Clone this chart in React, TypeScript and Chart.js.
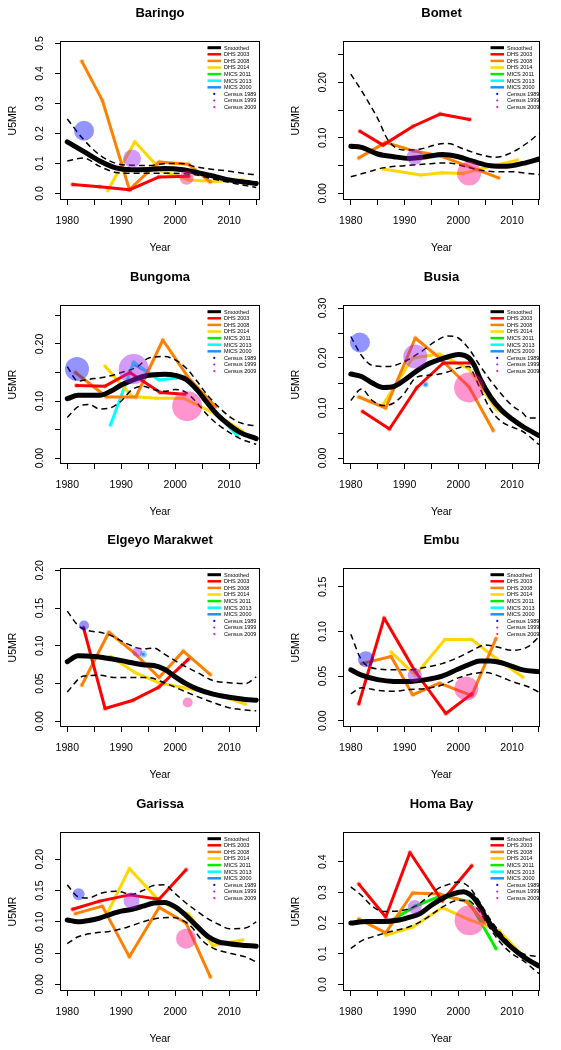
import React, { useEffect, useRef } from "react";
import { Chart, registerables } from "chart.js";

Chart.register(...registerables);

const FONT = '"Liberation Sans", Arial, Helvetica, sans-serif';

const legendNames = ["Smoothed", "DHS 2003", "DHS 2008", "DHS 2014", "MICS 2011", "MICS 2013", "MICS 2000", "Census 1989", "Census 1999", "Census 2009"];
const panelTitles = ["Baringo", "Bomet", "Bungoma", "Busia", "Elgeyo Marakwet", "Embu", "Garissa", "Homa Bay"];
const xTickYears = [1980, 1990, 2000, 2010];

// ---------- Baringo ----------
const baringoSmoothX = [1980, 1983, 1986, 1989, 1992, 1995, 1998, 2001, 2004, 2007, 2010, 2013, 2015];
const baringoSmoothY = [0.172, 0.14, 0.108, 0.085, 0.079, 0.08, 0.083, 0.08, 0.07, 0.058, 0.045, 0.037, 0.033];
const baringoUpperX = [1980, 1983, 1986, 1989, 1992, 1995, 1998, 2001, 2004, 2007, 2010, 2013, 2015];
const baringoUpperY = [0.248, 0.18, 0.128, 0.1, 0.094, 0.093, 0.099, 0.1, 0.088, 0.08, 0.074, 0.066, 0.062];
const baringoLowerX = [1980, 1983, 1986, 1989, 1992, 1995, 1998, 2001, 2004, 2007, 2010, 2013, 2015];
const baringoLowerY = [0.108, 0.118, 0.09, 0.07, 0.067, 0.067, 0.067, 0.066, 0.061, 0.048, 0.037, 0.026, 0.02];
const baringoDhs03X = [1981, 1986, 1991.5, 1997, 2002.5];
const baringoDhs03Y = [0.03, 0.022, 0.012, 0.055, 0.057];
const baringoDhs08X = [1982.7, 1986.5, 1991.5, 1997, 2002.5, 2006.5];
const baringoDhs08Y = [0.44, 0.31, 0.013, 0.105, 0.097, 0.038];
const baringoDhs14X = [1987.5, 1992.5, 1997.5, 2002.5, 2007.5, 2012.5];
const baringoDhs14Y = [0.01, 0.172, 0.075, 0.045, 0.04, 0.045];
const baringoCensusX = [1983.1, 1992, 2002.1];
const baringoCensusY = [0.209, 0.116, 0.052];
const baringoCensusSize = [10, 9, 7];
const baringoYTicks = [0, 0.1, 0.2, 0.3, 0.4, 0.5];
const baringoYLabels = ["0.0", "0.1", "0.2", "0.3", "0.4", "0.5"];

// ---------- Bomet ----------
const bometSmoothX = [1980, 1982, 1985, 1988, 1991, 1994, 1997, 2000, 2003, 2006, 2009, 2012, 2015];
const bometSmoothY = [0.085, 0.083, 0.071, 0.066, 0.063, 0.066, 0.07, 0.066, 0.057, 0.05, 0.049, 0.054, 0.062];
const bometUpperX = [1980, 1982, 1985, 1987, 1990, 1993, 1996, 1998, 2001, 2004, 2007, 2010, 2013, 2015];
const bometUpperY = [0.215, 0.185, 0.135, 0.095, 0.078, 0.08, 0.088, 0.09, 0.08, 0.07, 0.065, 0.074, 0.092, 0.108];
const bometLowerX = [1980, 1983, 1986, 1990, 1994, 1998, 2001, 2004, 2007, 2010, 2013, 2015];
const bometLowerY = [0.03, 0.038, 0.046, 0.05, 0.053, 0.055, 0.049, 0.042, 0.039, 0.039, 0.036, 0.034];
const bometDhs03X = [1981.7, 1986, 1991.6, 1996.6, 2002.1];
const bometDhs03Y = [0.112, 0.087, 0.121, 0.143, 0.133];
const bometDhs08X = [1981.5, 1986.5, 1991.5, 1996.5, 2001.5, 2007.5];
const bometDhs08Y = [0.064, 0.092, 0.077, 0.068, 0.05, 0.028];
const bometDhs14X = [1986, 1993, 1997, 2001, 2006.5, 2011];
const bometDhs14Y = [0.044, 0.033, 0.037, 0.036, 0.05, 0.06];
const bometCensusX = [1991.9, 2002];
const bometCensusY = [0.066, 0.036];
const bometCensusSize = [8, 12];
const bometYTicks = [0, 0.1, 0.2];
const bometYLabels = ["0.00", "0.10", "0.20"];

// ---------- Bungoma ----------
const bungomaSmoothX = [1980, 1982, 1984, 1986, 1988, 1990, 1992, 1994, 1996, 1998, 2000, 2002, 2004, 2006, 2008, 2010, 2012, 2015];
const bungomaSmoothY = [0.104, 0.11, 0.11, 0.11, 0.117, 0.128, 0.136, 0.143, 0.146, 0.147, 0.145, 0.138, 0.12, 0.096, 0.074, 0.058, 0.045, 0.034];
const bungomaUpperX = [1980, 1982, 1984, 1987, 1990, 1993, 1995, 1998, 2000, 2002, 2004, 2006, 2008, 2010, 2012, 2015];
const bungomaUpperY = [0.16, 0.135, 0.138, 0.142, 0.15, 0.16, 0.175, 0.178, 0.172, 0.158, 0.135, 0.11, 0.09, 0.073, 0.062, 0.056];
const bungomaLowerX = [1980, 1982, 1984, 1986, 1988, 1990, 1992, 1994, 1996, 1998, 2000, 2002, 2004, 2006, 2008, 2010, 2012, 2015];
const bungomaLowerY = [0.071, 0.09, 0.094, 0.086, 0.088, 0.1, 0.12, 0.126, 0.12, 0.117, 0.12, 0.115, 0.097, 0.075, 0.058, 0.045, 0.034, 0.024];
const bungomaDhs03X = [1981.7, 1987, 1991.6, 1997.2, 2001.8];
const bungomaDhs03Y = [0.127, 0.126, 0.15, 0.115, 0.112];
const bungomaDhs08X = [1981.5, 1987.3, 1992.7, 1997.7, 2002.5, 2007.5];
const bungomaDhs08Y = [0.15, 0.107, 0.107, 0.207, 0.14, 0.09];
const bungomaDhs14X = [1987, 1992, 1996.5, 2001.5, 2006.5, 2012.5];
const bungomaDhs14Y = [0.161, 0.108, 0.105, 0.105, 0.082, 0.047];
const bungomaMics13X = [1988, 1992.3, 1997, 2002, 2007.5, 2011.5];
const bungomaMics13Y = [0.058, 0.168, 0.137, 0.142, 0.08, 0.039];
const bungomaMics00X = [1992.3, 1995];
const bungomaMics00Y = [0.165, 0.15];
const bungomaCensusX = [1981.8, 1992.3, 2002.2];
const bungomaCensusY = [0.156, 0.156, 0.091];
const bungomaCensusSize = [12, 15, 15];
const bungomaYTicks = [0, 0.1, 0.2];
const bungomaYLabels = ["0.00", "0.10", "0.20"];

// ---------- Busia ----------
const busiaSmoothX = [1980, 1982, 1984, 1986, 1988, 1990, 1992, 1994, 1996, 1998, 2000, 2002, 2003, 2004, 2006, 2008, 2010, 2012, 2015];
const busiaSmoothY = [0.168, 0.163, 0.15, 0.141, 0.143, 0.156, 0.172, 0.186, 0.195, 0.202, 0.207, 0.2, 0.185, 0.16, 0.122, 0.096, 0.078, 0.063, 0.045];
const busiaUpperX = [1980, 1982, 1984, 1987, 1990, 1993, 1996, 1998, 2000, 2002, 2004, 2006, 2008, 2010, 2012, 2013, 2015];
const busiaUpperY = [0.243, 0.205, 0.185, 0.183, 0.193, 0.212, 0.235, 0.244, 0.24, 0.218, 0.185, 0.155, 0.128, 0.105, 0.09, 0.08, 0.08];
const busiaLowerX = [1980, 1982, 1984, 1986, 1988, 1990, 1992, 1994, 1996, 1998, 2000, 2002, 2003, 2004, 2006, 2008, 2010, 2012, 2015];
const busiaLowerY = [0.115, 0.138, 0.115, 0.105, 0.11, 0.13, 0.16, 0.165, 0.167, 0.172, 0.18, 0.183, 0.165, 0.14, 0.097, 0.073, 0.062, 0.053, 0.027];
const busiaDhs03X = [1982.2, 1987.2, 1992.3, 1997.2, 2002.1];
const busiaDhs03Y = [0.093, 0.058, 0.141, 0.19, 0.19];
const busiaDhs08X = [1981.5, 1986.5, 1992, 1996.5, 2002, 2006.5];
const busiaDhs08Y = [0.122, 0.1, 0.24, 0.2, 0.142, 0.055];
const busiaDhs14X = [1986, 1991.5, 1996.5, 2002, 2007, 2012];
const busiaDhs14Y = [0.107, 0.2, 0.208, 0.178, 0.098, 0.065];
const busiaMics00X = [1993.9];
const busiaMics00Y = [0.147];
const busiaCensusX = [1981.7, 1992, 2002];
const busiaCensusY = [0.231, 0.203, 0.141];
const busiaCensusSize = [10, 12, 15];
const busiaYTicks = [0, 0.1, 0.2, 0.3];
const busiaYLabels = ["0.00", "0.10", "0.20", "0.30"];

// ---------- Elgeyo Marakwet ----------
const elgeyoSmoothX = [1980, 1982, 1985, 1988, 1991, 1994, 1996, 1998, 2000, 2002, 2004, 2007, 2010, 2013, 2015];
const elgeyoSmoothY = [0.079, 0.087, 0.086, 0.083, 0.079, 0.075, 0.074, 0.069, 0.059, 0.05, 0.043, 0.036, 0.032, 0.029, 0.028];
const elgeyoUpperX = [1980, 1982, 1984, 1986, 1988, 1991, 1994, 1996, 1998, 2001, 2004, 2007, 2010, 2013, 2015];
const elgeyoUpperY = [0.146, 0.127, 0.12, 0.118, 0.114, 0.103, 0.096, 0.097, 0.089, 0.076, 0.065, 0.054, 0.051, 0.05, 0.059];
const elgeyoLowerX = [1980, 1983, 1986, 1989, 1992, 1995, 1998, 2001, 2004, 2007, 2010, 2013, 2015];
const elgeyoLowerY = [0.039, 0.06, 0.061, 0.058, 0.058, 0.058, 0.051, 0.042, 0.033, 0.025, 0.018, 0.015, 0.014];
const elgeyoDhs03X = [1983, 1987, 1992.2, 1996.9, 2002.4];
const elgeyoDhs03Y = [0.124, 0.017, 0.028, 0.045, 0.082];
const elgeyoDhs08X = [1982.7, 1987.7, 1992.5, 1997, 2001.5, 2006.5];
const elgeyoDhs08Y = [0.048, 0.118, 0.09, 0.058, 0.093, 0.062];
const elgeyoDhs14X = [1988, 1992.5, 1997, 2002, 2007, 2013];
const elgeyoDhs14Y = [0.086, 0.065, 0.051, 0.044, 0.037, 0.023];
const elgeyoMics00X = [1994.1];
const elgeyoMics00Y = [0.089];
const elgeyoCensusX = [1983.1, 1993, 2002.3];
const elgeyoCensusY = [0.127, 0.092, 0.025];
const elgeyoCensusSize = [5, 5, 5];
const elgeyoYTicks = [0, 0.05, 0.1, 0.15, 0.2];
const elgeyoYLabels = ["0.00", "0.05", "0.10", "0.15", "0.20"];

// ---------- Embu ----------
const embuSmoothX = [1980, 1982, 1985, 1988, 1991, 1994, 1997, 2000, 2002, 2004, 2006, 2008, 2010, 2012, 2015];
const embuSmoothY = [0.057, 0.051, 0.046, 0.044, 0.044, 0.046, 0.05, 0.058, 0.063, 0.067, 0.067, 0.065, 0.061, 0.057, 0.055];
const embuUpperX = [1980, 1982, 1985, 1988, 1991, 1994, 1997, 2000, 2003, 2005, 2007, 2010, 2013, 2015];
const embuUpperY = [0.097, 0.068, 0.058, 0.057, 0.057, 0.06, 0.064, 0.071, 0.08, 0.085, 0.083, 0.079, 0.083, 0.094];
const embuLowerX = [1980, 1982, 1985, 1988, 1991, 1994, 1997, 2000, 2003, 2005, 2008, 2010, 2013, 2015];
const embuLowerY = [0.03, 0.037, 0.034, 0.033, 0.035, 0.036, 0.04, 0.048, 0.053, 0.054, 0.049, 0.044, 0.038, 0.032];
const embuDhs03X = [1981.5, 1986.2, 1992, 1997.7, 2002.5];
const embuDhs03Y = [0.019, 0.115, 0.055, 0.008, 0.03];
const embuDhs08X = [1982, 1987.5, 1991.5, 1996.5, 2002.5, 2007];
const embuDhs08Y = [0.064, 0.072, 0.029, 0.042, 0.028, 0.092];
const embuDhs14X = [1987.5, 1992, 1997.5, 2002.5, 2007, 2012];
const embuDhs14Y = [0.077, 0.051, 0.091, 0.091, 0.07, 0.049];
const embuCensusX = [1982.8, 1991.9, 2001.5];
const embuCensusY = [0.069, 0.051, 0.036];
const embuCensusSize = [8, 7, 12];
const embuYTicks = [0, 0.05, 0.1, 0.15];
const embuYLabels = ["0.00", "0.05", "0.10", "0.15"];

// ---------- Garissa ----------
const garissaSmoothX = [1980, 1982, 1984, 1986, 1988, 1990, 1992, 1994, 1996, 1998, 2000, 2002, 2004, 2006, 2008, 2010, 2012, 2015];
const garissaSmoothY = [0.103, 0.1, 0.102, 0.106, 0.112, 0.117, 0.12, 0.125, 0.13, 0.131, 0.124, 0.11, 0.093, 0.077, 0.068, 0.065, 0.063, 0.061];
const garissaUpperX = [1980, 1982, 1984, 1986, 1989, 1992, 1994, 1996, 1998, 2000, 2002, 2004, 2006, 2008, 2010, 2013, 2015];
const garissaUpperY = [0.159, 0.14, 0.138, 0.145, 0.149, 0.144, 0.15, 0.158, 0.159, 0.145, 0.13, 0.117, 0.105, 0.096, 0.089, 0.09, 0.1];
const garissaLowerX = [1980, 1982, 1985, 1988, 1991, 1994, 1997, 1999, 2001, 2003, 2005, 2007, 2009, 2011, 2013, 2015];
const garissaLowerY = [0.065, 0.076, 0.082, 0.085, 0.091, 0.1, 0.106, 0.107, 0.104, 0.092, 0.07, 0.058, 0.052, 0.048, 0.044, 0.036];
const garissaDhs03X = [1981, 1986, 1991.5, 1997, 2002];
const garissaDhs03Y = [0.12, 0.133, 0.143, 0.136, 0.183];
const garissaDhs08X = [1981.5, 1986.5, 1991.5, 1997, 2002, 2006.5];
const garissaDhs08Y = [0.113, 0.125, 0.044, 0.123, 0.098, 0.012];
const garissaDhs14X = [1987.5, 1991.5, 1997, 2002.5, 2007, 2012.5];
const garissaDhs14Y = [0.115, 0.185, 0.134, 0.112, 0.062, 0.071];
const garissaCensusX = [1982.1, 1991.9, 2002];
const garissaCensusY = [0.144, 0.134, 0.073];
const garissaCensusSize = [6, 8, 10];
const garissaYTicks = [0, 0.05, 0.1, 0.15, 0.2];
const garissaYLabels = ["0.00", "0.05", "0.10", "0.15", "0.20"];

// ---------- Homa Bay ----------
const homaSmoothX = [1980, 1983, 1986, 1989, 1991, 1993, 1995, 1997, 1999, 2001, 2002, 2003, 2004, 2005, 2007, 2009, 2011, 2013, 2015];
const homaSmoothY = [0.2, 0.205, 0.205, 0.21, 0.219, 0.232, 0.258, 0.28, 0.295, 0.302, 0.295, 0.28, 0.255, 0.222, 0.172, 0.135, 0.105, 0.08, 0.06];
const homaUpperX = [1980, 1982, 1984, 1986, 1989, 1992, 1994, 1996, 1998, 2000, 2002, 2003, 2004, 2006, 2008, 2010, 2012, 2015];
const homaUpperY = [0.318, 0.29, 0.255, 0.238, 0.24, 0.255, 0.28, 0.31, 0.325, 0.334, 0.318, 0.295, 0.268, 0.21, 0.165, 0.125, 0.1, 0.09];
const homaLowerX = [1980, 1982, 1985, 1988, 1990, 1992, 1994, 1996, 1998, 2000, 2002, 2003, 2004, 2006, 2008, 2010, 2012, 2015];
const homaLowerY = [0.117, 0.142, 0.16, 0.175, 0.183, 0.196, 0.215, 0.24, 0.262, 0.274, 0.273, 0.258, 0.236, 0.18, 0.133, 0.1, 0.078, 0.035];
const homaDhs03X = [1981.5, 1986.5, 1991, 1997, 2002.5];
const homaDhs03Y = [0.327, 0.22, 0.43, 0.272, 0.387];
const homaDhs08X = [1981.5, 1986.5, 1991.5, 1996.5, 2001.5, 2005];
const homaDhs08Y = [0.213, 0.168, 0.298, 0.295, 0.27, 0.2];
const homaDhs14X = [1986.5, 1991.5, 1997, 2002, 2007.5, 2012.5];
const homaDhs14Y = [0.16, 0.187, 0.25, 0.211, 0.176, 0.085];
const homaMics11X = [1987, 1992, 1997, 2002, 2007];
const homaMics11Y = [0.203, 0.255, 0.29, 0.27, 0.117];
const homaCensusX = [1991.9, 2002.1];
const homaCensusY = [0.252, 0.209];
const homaCensusSize = [7, 15];
const homaYTicks = [0, 0.1, 0.2, 0.3, 0.4];
const homaYLabels = ["0.0", "0.1", "0.2", "0.3", "0.4"];

// ---------- styles ----------
const COLORS = {
  smooth: "#000000",
  dhs03: "#FF0000",
  dhs08: "#FF8000",
  dhs14: "#FFD700",
  mics11: "#00EE00",
  mics13: "#00FFFF",
  mics00: "#1E90FF",
  c89: "#0000FF",
  c99: "#A020F0",
  c09: "#FF1493",
};
const legendColors = [COLORS.smooth, COLORS.dhs03, COLORS.dhs08, COLORS.dhs14, COLORS.mics11, COLORS.mics13, COLORS.mics00, COLORS.c89, COLORS.c99, COLORS.c09];

function rgba(hex: string, a: number) {
  const n = parseInt(hex.slice(1), 16);
  return `rgba(${(n >> 16) & 255},${(n >> 8) & 255},${n & 255},${a})`;
}
const pts = (xs: number[], ys: number[]) => xs.map((x, i) => ({ x, y: ys[i] }));

type Series = { xs: number[]; ys: number[]; color: string; r?: number };
type PanelDef = {
  title: string;
  yMin: number;
  yMax: number;
  yStep: number;
  yTicks: number[];
  yLabels: string[];
  smooth: [number[], number[]];
  upper: [number[], number[]];
  lower: [number[], number[]];
  series: Series[];
  census: { xs: number[]; ys: number[]; size: number[]; colors: string[] };
};

const panels: PanelDef[] = [
  {
    title: panelTitles[0], yMin: -0.022, yMax: 0.508, yStep: 0.1, yTicks: baringoYTicks, yLabels: baringoYLabels,
    smooth: [baringoSmoothX, baringoSmoothY], upper: [baringoUpperX, baringoUpperY], lower: [baringoLowerX, baringoLowerY],
    series: [
      { xs: baringoDhs03X, ys: baringoDhs03Y, color: COLORS.dhs03 },
      { xs: baringoDhs08X, ys: baringoDhs08Y, color: COLORS.dhs08 },
      { xs: baringoDhs14X, ys: baringoDhs14Y, color: COLORS.dhs14 },
    ],
    census: { xs: baringoCensusX, ys: baringoCensusY, size: baringoCensusSize, colors: [COLORS.c89, COLORS.c99, COLORS.c09] },
  },
  {
    title: panelTitles[1], yMin: -0.0119, yMax: 0.2746, yStep: 0.05, yTicks: bometYTicks, yLabels: bometYLabels,
    smooth: [bometSmoothX, bometSmoothY], upper: [bometUpperX, bometUpperY], lower: [bometLowerX, bometLowerY],
    series: [
      { xs: bometDhs03X, ys: bometDhs03Y, color: COLORS.dhs03 },
      { xs: bometDhs08X, ys: bometDhs08Y, color: COLORS.dhs08 },
      { xs: bometDhs14X, ys: bometDhs14Y, color: COLORS.dhs14 },
    ],
    census: { xs: bometCensusX, ys: bometCensusY, size: bometCensusSize, colors: [COLORS.c99, COLORS.c09] },
  },
  {
    title: panelTitles[2], yMin: -0.0105, yMax: 0.2684, yStep: 0.05, yTicks: bungomaYTicks, yLabels: bungomaYLabels,
    smooth: [bungomaSmoothX, bungomaSmoothY], upper: [bungomaUpperX, bungomaUpperY], lower: [bungomaLowerX, bungomaLowerY],
    series: [
      { xs: bungomaDhs03X, ys: bungomaDhs03Y, color: COLORS.dhs03 },
      { xs: bungomaDhs08X, ys: bungomaDhs08Y, color: COLORS.dhs08 },
      { xs: bungomaDhs14X, ys: bungomaDhs14Y, color: COLORS.dhs14 },
      { xs: bungomaMics13X, ys: bungomaMics13Y, color: COLORS.mics13 },
      { xs: bungomaMics00X, ys: bungomaMics00Y, color: COLORS.mics00 },
    ],
    census: { xs: bungomaCensusX, ys: bungomaCensusY, size: bungomaCensusSize, colors: [COLORS.c89, COLORS.c99, COLORS.c09] },
  },
  {
    title: panelTitles[3], yMin: -0.012, yMax: 0.306, yStep: 0.05, yTicks: busiaYTicks, yLabels: busiaYLabels,
    smooth: [busiaSmoothX, busiaSmoothY], upper: [busiaUpperX, busiaUpperY], lower: [busiaLowerX, busiaLowerY],
    series: [
      { xs: busiaDhs03X, ys: busiaDhs03Y, color: COLORS.dhs03 },
      { xs: busiaDhs08X, ys: busiaDhs08Y, color: COLORS.dhs08 },
      { xs: busiaDhs14X, ys: busiaDhs14Y, color: COLORS.dhs14 },
      { xs: busiaMics00X, ys: busiaMics00Y, color: COLORS.mics00, r: 3 },
    ],
    census: { xs: busiaCensusX, ys: busiaCensusY, size: busiaCensusSize, colors: [COLORS.c89, COLORS.c99, COLORS.c09] },
  },
  {
    title: panelTitles[4], yMin: -0.0075, yMax: 0.2031, yStep: 0.05, yTicks: elgeyoYTicks, yLabels: elgeyoYLabels,
    smooth: [elgeyoSmoothX, elgeyoSmoothY], upper: [elgeyoUpperX, elgeyoUpperY], lower: [elgeyoLowerX, elgeyoLowerY],
    series: [
      { xs: elgeyoDhs03X, ys: elgeyoDhs03Y, color: COLORS.dhs03 },
      { xs: elgeyoDhs08X, ys: elgeyoDhs08Y, color: COLORS.dhs08 },
      { xs: elgeyoDhs14X, ys: elgeyoDhs14Y, color: COLORS.dhs14 },
      { xs: elgeyoMics00X, ys: elgeyoMics00Y, color: COLORS.mics00, r: 3.5 },
    ],
    census: { xs: elgeyoCensusX, ys: elgeyoCensusY, size: elgeyoCensusSize, colors: [COLORS.c89, COLORS.c99, COLORS.c09] },
  },
  {
    title: panelTitles[5], yMin: -0.0071, yMax: 0.1712, yStep: 0.05, yTicks: embuYTicks, yLabels: embuYLabels,
    smooth: [embuSmoothX, embuSmoothY], upper: [embuUpperX, embuUpperY], lower: [embuLowerX, embuLowerY],
    series: [
      { xs: embuDhs03X, ys: embuDhs03Y, color: COLORS.dhs03 },
      { xs: embuDhs08X, ys: embuDhs08Y, color: COLORS.dhs08 },
      { xs: embuDhs14X, ys: embuDhs14Y, color: COLORS.dhs14 },
    ],
    census: { xs: embuCensusX, ys: embuCensusY, size: embuCensusSize, colors: [COLORS.c89, COLORS.c99, COLORS.c09] },
  },
  {
    title: panelTitles[6], yMin: -0.0106, yMax: 0.2435, yStep: 0.05, yTicks: garissaYTicks, yLabels: garissaYLabels,
    smooth: [garissaSmoothX, garissaSmoothY], upper: [garissaUpperX, garissaUpperY], lower: [garissaLowerX, garissaLowerY],
    series: [
      { xs: garissaDhs03X, ys: garissaDhs03Y, color: COLORS.dhs03 },
      { xs: garissaDhs08X, ys: garissaDhs08Y, color: COLORS.dhs08 },
      { xs: garissaDhs14X, ys: garissaDhs14Y, color: COLORS.dhs14 },
    ],
    census: { xs: garissaCensusX, ys: garissaCensusY, size: garissaCensusSize, colors: [COLORS.c89, COLORS.c99, COLORS.c09] },
  },
  {
    title: panelTitles[7], yMin: -0.0216, yMax: 0.497, yStep: 0.1, yTicks: homaYTicks, yLabels: homaYLabels,
    smooth: [homaSmoothX, homaSmoothY], upper: [homaUpperX, homaUpperY], lower: [homaLowerX, homaLowerY],
    series: [
      { xs: homaDhs03X, ys: homaDhs03Y, color: COLORS.dhs03 },
      { xs: homaDhs08X, ys: homaDhs08Y, color: COLORS.dhs08 },
      { xs: homaDhs14X, ys: homaDhs14Y, color: COLORS.dhs14 },
      { xs: homaMics11X, ys: homaMics11Y, color: COLORS.mics11 },
    ],
    census: { xs: homaCensusX, ys: homaCensusY, size: homaCensusSize, colors: [COLORS.c99, COLORS.c09] },
  },
];

const ROW_TOPS = [0, 264, 527, 791];
const COL_LEFTS = [0, 281];
const CANVAS_W = 280;
const CANVAS_H = 264;
const COL_GEOM = [
  { chartLeft: 60, chartRight: 260, xMin: 1978.65, xMax: 2015.7 },
  { chartLeft: 62, chartRight: 259, xMin: 1978.55, xMax: 2015.2 },
];
const CHART_TOP = 41;
const CHART_BOTTOM = 200;

const overlayPlugin = {
  id: "overlay",
  afterDraw(chart: any, _args: any, opts: any) {
    const p: PanelDef = opts.panel;
    if (!p) return;
    const { ctx, chartArea: a } = chart;
    const ys = chart.scales.y;
    ctx.save();
    // box
    ctx.strokeStyle = "#000";
    ctx.lineWidth = 1;
    ctx.setLineDash([]);
    const l = Math.round(a.left) + 0.5;
    const t = Math.round(a.top) + 0.5;
    const r = Math.round(a.right) - 0.5;
    const b = Math.round(a.bottom) - 0.5;
    ctx.strokeRect(l, t, r - l, b - t);

    ctx.fillStyle = "#000";
    // title
    ctx.font = `bold 13px ${FONT}`;
    ctx.textAlign = "center";
    ctx.textBaseline = "middle";
    ctx.fillText(p.title, (a.left + a.right) / 2, 13.5);

    // y title
    ctx.font = `10.5px ${FONT}`;
    ctx.save();
    ctx.translate(a.left - 47, (a.top + a.bottom) / 2);
    ctx.rotate(-Math.PI / 2);
    ctx.fillText("U5MR", 0, 0);
    ctx.restore();

    // y tick labels (rotated, R style)
    p.yTicks.forEach((v, i) => {
      const py = ys.getPixelForValue(v);
      ctx.save();
      ctx.translate(a.left - 19.5, py);
      ctx.rotate(-Math.PI / 2);
      ctx.fillText(p.yLabels[i], 0, 0);
      ctx.restore();
    });

    // legend
    ctx.font = `5.5px ${FONT}`;
    ctx.textAlign = "left";
    ctx.lineCap = "butt";
    legendNames.forEach((name, i) => {
      const yy = a.top + 6.7 + i * 6.6;
      if (i < 7) {
        ctx.strokeStyle = legendColors[i];
        ctx.lineWidth = i === 0 ? 3 : 2.5;
        ctx.beginPath();
        ctx.moveTo(a.left + 147.5, yy);
        ctx.lineTo(a.left + 161, yy);
        ctx.stroke();
      } else {
        ctx.fillStyle = legendColors[i];
        ctx.beginPath();
        ctx.arc(a.left + 154.25, yy, 1.1, 0, Math.PI * 2);
        ctx.fill();
      }
      ctx.fillStyle = "#000";
      ctx.fillText(name, a.left + 164, yy + 0.3);
    });
    ctx.restore();
  },
};

function PanelChart({ p, col }: { p: PanelDef; col: number }) {
  const ref = useRef<HTMLCanvasElement | null>(null);
  useEffect(() => {
    if (!ref.current) return;
    const g = COL_GEOM[col];
    const lineDs = p.series.map((s, i) => ({
      type: "line" as const,
      data: pts(s.xs, s.ys),
      borderColor: s.color,
      borderWidth: 3,
      borderCapStyle: "round" as const,
      borderJoinStyle: "round" as const,
      pointRadius: s.r ?? 2.5,
      pointBackgroundColor: rgba(s.color, s.r ? 0.45 : 0.3),
      pointBorderWidth: 0,
      tension: 0,
      order: 10 + i,
    }));
    const boundStyle = {
      type: "line" as const,
      borderColor: "#000",
      borderWidth: 1.5,
      borderDash: [6, 4],
      pointRadius: 0,
      cubicInterpolationMode: "monotone" as const,
      order: 2,
    };
    const datasets: any[] = [
      {
        type: "bubble",
        data: p.census.xs.map((x, i) => ({ x, y: p.census.ys[i], r: p.census.size[i] })),
        backgroundColor: p.census.colors.map((c) => rgba(c, c === COLORS.c89 ? 0.42 : 0.45)),
        borderWidth: 0,
        order: 0,
      },
      { ...boundStyle, data: pts(p.upper[0], p.upper[1]) },
      { ...boundStyle, data: pts(p.lower[0], p.lower[1]) },
      {
        type: "line",
        data: pts(p.smooth[0], p.smooth[1]),
        borderColor: "#000",
        borderWidth: 5,
        borderCapStyle: "round",
        borderJoinStyle: "round",
        pointRadius: 0,
        cubicInterpolationMode: "monotone",
        order: 3,
      },
      ...lineDs,
    ];
    const chart = new Chart(ref.current, {
      type: "line",
      data: { datasets },
      plugins: [overlayPlugin],
      options: {
        responsive: false,
        animation: false,
        devicePixelRatio: 1,
        events: [],
        layout: { padding: { top: CHART_TOP, right: CANVAS_W - g.chartRight, bottom: 0, left: 0 } },
        plugins: {
          legend: { display: false },
          title: { display: false },
          tooltip: { enabled: false },
          overlay: { panel: p },
        } as any,
        scales: {
          x: {
            type: "linear",
            min: g.xMin,
            max: g.xMax,
            afterFit: (s: any) => {
              s.height = CANVAS_H - CHART_BOTTOM;
            },
            border: { display: false },
            grid: { drawOnChartArea: false, drawTicks: true, tickLength: 5, color: "#000", lineWidth: 1 },
            ticks: {
              stepSize: 5,
              includeBounds: false,
              autoSkip: false,
              minRotation: 0,
              maxRotation: 0,
              padding: 9.5,
              color: "#000",
              font: { family: FONT, size: 10.5 },
              callback: (v: any) => {
                const n = Math.round(Number(v));
                return xTickYears.includes(n) ? String(n) : "";
              },
            },
            title: {
              display: true,
              text: "Year",
              color: "#000",
              font: { family: FONT, size: 10.5 },
              padding: { top: 0, bottom: 10 },
            },
          },
          y: {
            type: "linear",
            min: p.yMin,
            max: p.yMax,
            afterFit: (s: any) => {
              s.width = g.chartLeft;
            },
            border: { display: false },
            grid: { drawOnChartArea: false, drawTicks: true, tickLength: 5, color: "#000", lineWidth: 1 },
            ticks: { display: false, stepSize: p.yStep, includeBounds: false },
          },
        },
      } as any,
    });
    return () => chart.destroy();
  }, [p, col]);
  return <canvas ref={ref} width={CANVAS_W} height={CANVAS_H} style={{ width: CANVAS_W, height: CANVAS_H, display: "block" }} />;
}

export default function App() {
  return (
    <div style={{ position: "fixed", left: 0, top: 0, width: 561, height: 1050, overflow: "hidden", background: "#fff" }}>
      {panels.map((p, i) => {
        const row = Math.floor(i / 2);
        const col = i % 2;
        return (
          <div key={p.title} style={{ position: "absolute", left: COL_LEFTS[col], top: ROW_TOPS[row], width: CANVAS_W, height: CANVAS_H }}>
            <PanelChart p={p} col={col} />
          </div>
        );
      })}
    </div>
  );
}
